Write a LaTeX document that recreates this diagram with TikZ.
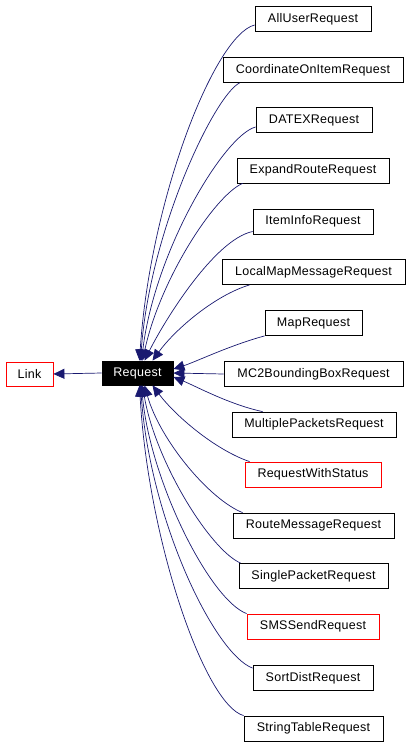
\documentclass[tikz,border=0pt]{standalone}
\usepackage{fontspec}
\setmainfont{Liberation Sans}[LetterSpace=2]
\usetikzlibrary{arrows.meta}

\definecolor{edgeblue}{HTML}{191970}

\tikzset{
  cls/.style={draw=black,line width=0.8pt,minimum height=25pt,inner sep=0pt,
    font=\fontsize{12.5}{14}\selectfont},
  redcls/.style={cls,draw=red},
  inh/.style={edgeblue,line width=0.7pt,-{Triangle[length=11pt,width=10pt]}}
}

\begin{document}
\begin{tikzpicture}[x=1pt,y=-1pt]
    \useasboundingbox (0,0) rectangle (411,747);
    % base classes
    \node[redcls,minimum width=47pt,minimum height=24pt] (link) at (29.5,374) {Link};
    \node[cls,fill=black,text=white,minimum width=71pt,minimum height=24pt] (req) at (137.5,373) {Request};
    % derived classes
    \node[cls,minimum width=116pt] (c1) at (313,19) {AllUserRequest};
    \node[cls,minimum width=180pt] (c2) at (313,70) {CoordinateOnItemRequest};
    \node[cls,minimum width=116pt] (c3) at (314,120) {DATEXRequest};
    \node[cls,minimum width=152pt] (c4) at (313,170.5) {ExpandRouteRequest};
    \node[cls,minimum width=120pt] (c5) at (313,221.5) {ItemInfoRequest};
    \node[cls,minimum width=183pt] (c6) at (313.5,272) {LocalMapMessageRequest};
    \node[cls,minimum width=97pt] (c7) at (313.5,323) {MapRequest};
    \node[cls,minimum width=179pt] (c8) at (313.5,374) {MC2BoundingBoxRequest};
    \node[cls,minimum width=164pt] (c9) at (314,424.5) {MultiplePacketsRequest};
    \node[redcls,minimum width=136pt] (c10) at (313,474.5) {RequestWithStatus};
    \node[cls,minimum width=161pt] (c11) at (313.5,525.5) {RouteMessageRequest};
    \node[cls,minimum width=149pt] (c12) at (313.5,576) {SinglePacketRequest};
    \node[redcls,minimum width=132pt] (c13) at (313,626.5) {SMSSendRequest};
    \node[cls,minimum width=120pt] (c14) at (313,678) {SortDistRequest};
    \node[cls,minimum width=139pt] (c15) at (313.5,728.5) {StringTableRequest};

    % inheritance
    \draw[inh] (req.west) -- (link.east);
    \draw[inh] ([yshift=-6pt]c1.west) .. controls +(-40,10) and +(10.5,-161) .. ([xshift=2pt]req.north);
    \draw[inh] ([xshift=17pt]c2.south west) .. controls +(-25,12.5) and +(9.5,-131) .. ([xshift=3pt]req.north);
    \draw[inh] ([yshift=-7pt]c3.west) .. controls +(-31,8) and +(13.5,-111) .. ([xshift=4pt]req.north);
    \draw[inh] ([xshift=6pt]c4.south west) .. controls +(-28,12) and +(17.5,-81) .. ([xshift=5pt]req.north);
    \draw[inh] ([yshift=-10pt]c5.west) .. controls +(-38,8) and +(20.5,-41) .. ([xshift=7pt]req.north);
    \draw[inh] ([xshift=28pt]c6.south west) .. controls +(-35,10.5) and +(22.5,-31) .. ([xshift=15pt]req.north);
    \draw[inh] (c7.south west) .. controls +(-35,9.5) and +(22,-7) .. ([yshift=4pt]req.east);
    \draw[inh] (c8.west) -- (req.east);
    \draw[inh] ([xshift=31pt]c9.north west) .. controls +(-33,-7) and +(22,9) .. ([yshift=-4pt]req.east);
    \draw[inh] ([xshift=5pt]c10.north west) .. controls +(-35,-12) and +(22.5,30) .. ([xshift=15pt]req.south);
    \draw[inh] ([xshift=10pt]c11.north west) .. controls +(-33,-13) and +(15.5,55) .. ([xshift=7pt]req.south);
    \draw[inh] ([xshift=2pt]c12.north west) .. controls +(-31,-13.5) and +(12.5,75) .. ([xshift=5pt]req.south);
    \draw[inh] (c13.north west) .. controls +(-37,-14) and +(8.5,95) .. ([xshift=4pt]req.south);
    \draw[inh] ([yshift=-3pt]c14.north west) .. controls +(-38,-14) and +(9.5,135) .. ([xshift=3pt]req.south);
    \draw[inh] (c15.north west) .. controls +(-39,-11) and +(8.5,155) .. ([xshift=2pt]req.south);
\end{tikzpicture}
\end{document}
